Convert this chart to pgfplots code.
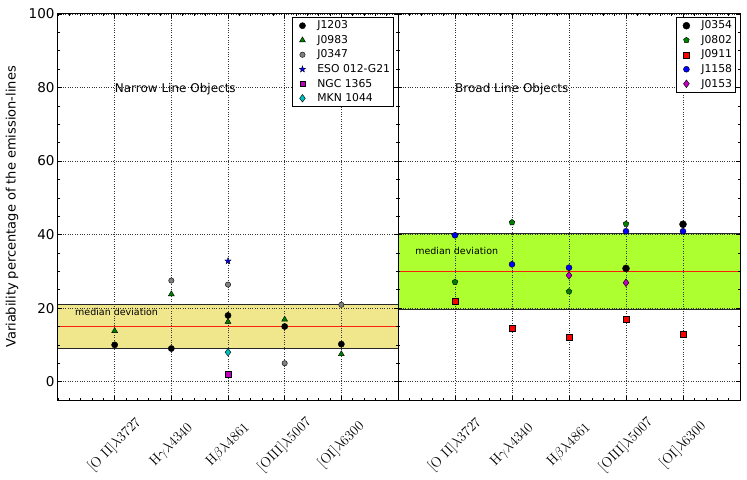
\documentclass[border=0pt]{standalone}
\usepackage{pgfplots}
\pgfplotsset{compat=1.18}
\usepackage{fontspec}
\newfontfamily\dejavu{DejaVu Sans}
\usetikzlibrary{plotmarks}
\definecolor{mgreen}{rgb}{0,0.5,0}
\definecolor{mmag}{rgb}{0.75,0,0.75}
\definecolor{mcyan}{rgb}{0,0.75,0.75}
\definecolor{khaki}{HTML}{F0E68C}
\definecolor{gyellow}{HTML}{ADFF2F}
\definecolor{medred}{rgb}{1,0.12,0.05}
\pgfdeclareplotmark{fstar}{%
 \pgfpathmoveto{\pgfpointpolar{90}{\pgfplotmarksize}}%
 \pgfpathlineto{\pgfpointpolar{126}{0.4\pgfplotmarksize}}%
 \pgfpathlineto{\pgfpointpolar{162}{\pgfplotmarksize}}%
 \pgfpathlineto{\pgfpointpolar{198}{0.4\pgfplotmarksize}}%
 \pgfpathlineto{\pgfpointpolar{234}{\pgfplotmarksize}}%
 \pgfpathlineto{\pgfpointpolar{270}{0.4\pgfplotmarksize}}%
 \pgfpathlineto{\pgfpointpolar{306}{\pgfplotmarksize}}%
 \pgfpathlineto{\pgfpointpolar{342}{0.4\pgfplotmarksize}}%
 \pgfpathlineto{\pgfpointpolar{18}{\pgfplotmarksize}}%
 \pgfpathlineto{\pgfpointpolar{54}{0.4\pgfplotmarksize}}%
 \pgfpathclose\pgfusepathqfillstroke}
\pgfplotsset{
 panel/.style={
  scale only axis, height=386pt,
  xmin=0, xmax=6, ymin=-5, ymax=100,
  xtick={1,2,3,4,5}, minor xtick={0,0.2,...,6},
  ytick={0,20,...,100}, minor ytick={5,10,...,95},
  xticklabels={{[O II]$\lambda$3727},{H$\gamma\lambda$4340},{H$\beta\lambda$4861},{[OIII]$\lambda$5007},{[OI]$\lambda$6300}},
  grid=major, major grid style={dotted, black!80, line width=0.5pt},
  tick align=inside, major tick length=4pt, minor tick length=2pt,
  tick style={black, line width=0.6pt},
  axis line style={line width=1pt},
  axis on top,
  xticklabel style={yshift=-45pt, rotate=45, anchor=center, font=\rmfamily\fontsize{14}{16}\selectfont},
  yticklabel style={font=\dejavu\fontsize{13.5}{15}\selectfont},
  /pgf/number format/assume math mode=true,
  legend cell align=left,
  legend image code/.code={\path (0cm,0cm) (0.72cm,0cm); \draw[##1] plot coordinates {(0.28cm,0cm)};},
  legend style={at={(1,1)}, anchor=north east, xshift=-4pt, yshift=-3pt,
    font=\dejavu\fontsize{10.8}{12.5}\selectfont, draw=black, line width=0.9pt,
    inner sep=1.5pt, row sep=1pt, fill=white},
 },
 band/.style={draw=none, fill=#1, forget plot},
 edge/.style={black!85, line width=1.2pt, forget plot},
 med/.style={draw=medred, line width=1.1pt, forget plot},
}
\begin{document}
\begin{tikzpicture}[x=1pt,y=1pt]
\path (0,0) rectangle (747,478);
\begin{axis}[panel, width=340pt, at={(58pt,78pt)}, anchor=south west,
  ylabel={Variability percentage of the emission-lines},
  ylabel style={at={(axis description cs:-0.135,0.5)}, anchor=center, font=\dejavu\fontsize{13}{15}\selectfont}]
\addplot[band=khaki] coordinates {(0,9) (6,9) (6,21) (0,21) (0,9)};
\addplot[edge] coordinates {(0,9) (6,9)};
\addplot[edge] coordinates {(0,21) (6,21)};
\addplot[med] coordinates {(0,15) (6,15)};
\addplot[only marks, mark=*, mark size=3.1pt, mark options={draw=black, fill=black, line width=0.4pt}] coordinates {(1,10.0) (2,9.0) (3,18.0) (4,15.0) (5,10.2)};
\addlegendentry{J1203}
\addplot[only marks, mark=triangle*, mark size=3.4pt, mark options={draw=black, fill=mgreen, line width=0.4pt}] coordinates {(1,13.8) (2,23.8) (3,16.3) (4,16.9) (5,7.5)};
\addlegendentry{J0983}
\addplot[only marks, mark=*, mark size=2.7pt, mark options={draw=black, fill=gray, line width=0.4pt}] coordinates {(2,27.5) (3,26.4) (4,5.0) (5,20.9)};
\addlegendentry{J0347}
\addplot[only marks, mark=fstar, mark size=3.4pt, mark options={draw=black, fill=blue, line width=0.3pt}] coordinates {(3,32.8)};
\addlegendentry{ESO 012-G21}
\addplot[only marks, mark=square*, mark size=2.7pt, mark options={draw=black, fill=mmag, line width=0.4pt}] coordinates {(3,2.0)};
\addlegendentry{NGC 1365}
\addplot[only marks, mark=diamond*, mark size=3.8pt, mark options={draw=black, fill=mcyan, line width=0.4pt}] coordinates {(3,8.0)};
\addlegendentry{MKN 1044}
\node[anchor=base west, inner sep=0pt, font=\dejavu\fontsize{12}{14}\selectfont] at (axis cs:1,78.7) {Narrow Line Objects};
\node[anchor=base west, inner sep=0pt, font=\dejavu\fontsize{9.5}{11}\selectfont] at (axis cs:0.3,18) {median deviation};
\end{axis}
\begin{axis}[panel, width=342pt, at={(398pt,78pt)}, anchor=south west, yticklabels={}]
\addplot[band=gyellow] coordinates {(0,19.7) (6,19.7) (6,40.3) (0,40.3) (0,19.7)};
\addplot[edge] coordinates {(0,19.7) (6,19.7)};
\addplot[edge] coordinates {(0,40.3) (6,40.3)};
\addplot[med] coordinates {(0,30) (6,30)};
\addplot[only marks, mark=*, mark size=3.5pt, mark options={draw=black, fill=black, line width=0.4pt}] coordinates {(4,30.8) (5,42.8)};
\addlegendentry{J0354}
\addplot[only marks, mark=pentagon*, mark size=3pt, mark options={draw=black, fill=mgreen, line width=0.4pt}] coordinates {(1,27.1) (2,43.3) (3,24.5) (4,42.9)};
\addlegendentry{J0802}
\addplot[only marks, mark=square*, mark size=3pt, mark options={draw=black, fill=red, line width=0.4pt}] coordinates {(1,22.0) (2,14.4) (3,12.2) (4,16.9) (5,12.9)};
\addlegendentry{J0911}
\addplot[only marks, mark=*, mark size=3pt, mark options={draw=black, fill=blue, line width=0.4pt}] coordinates {(1,39.8) (2,31.9) (3,31.0) (4,40.9) (5,40.9)};
\addlegendentry{J1158}
\addplot[only marks, mark=diamond*, mark size=3.9pt, mark options={draw=black, fill=mmag, line width=0.4pt}] coordinates {(3,28.9) (4,26.9)};
\addlegendentry{J0153}
\node[anchor=base west, inner sep=0pt, font=\dejavu\fontsize{12}{14}\selectfont] at (axis cs:1,78.7) {Broad Line Objects};
\node[anchor=base west, inner sep=0pt, font=\dejavu\fontsize{9.5}{11}\selectfont] at (axis cs:0.3,34.7) {median deviation};
\end{axis}
\end{tikzpicture}
\end{document}
